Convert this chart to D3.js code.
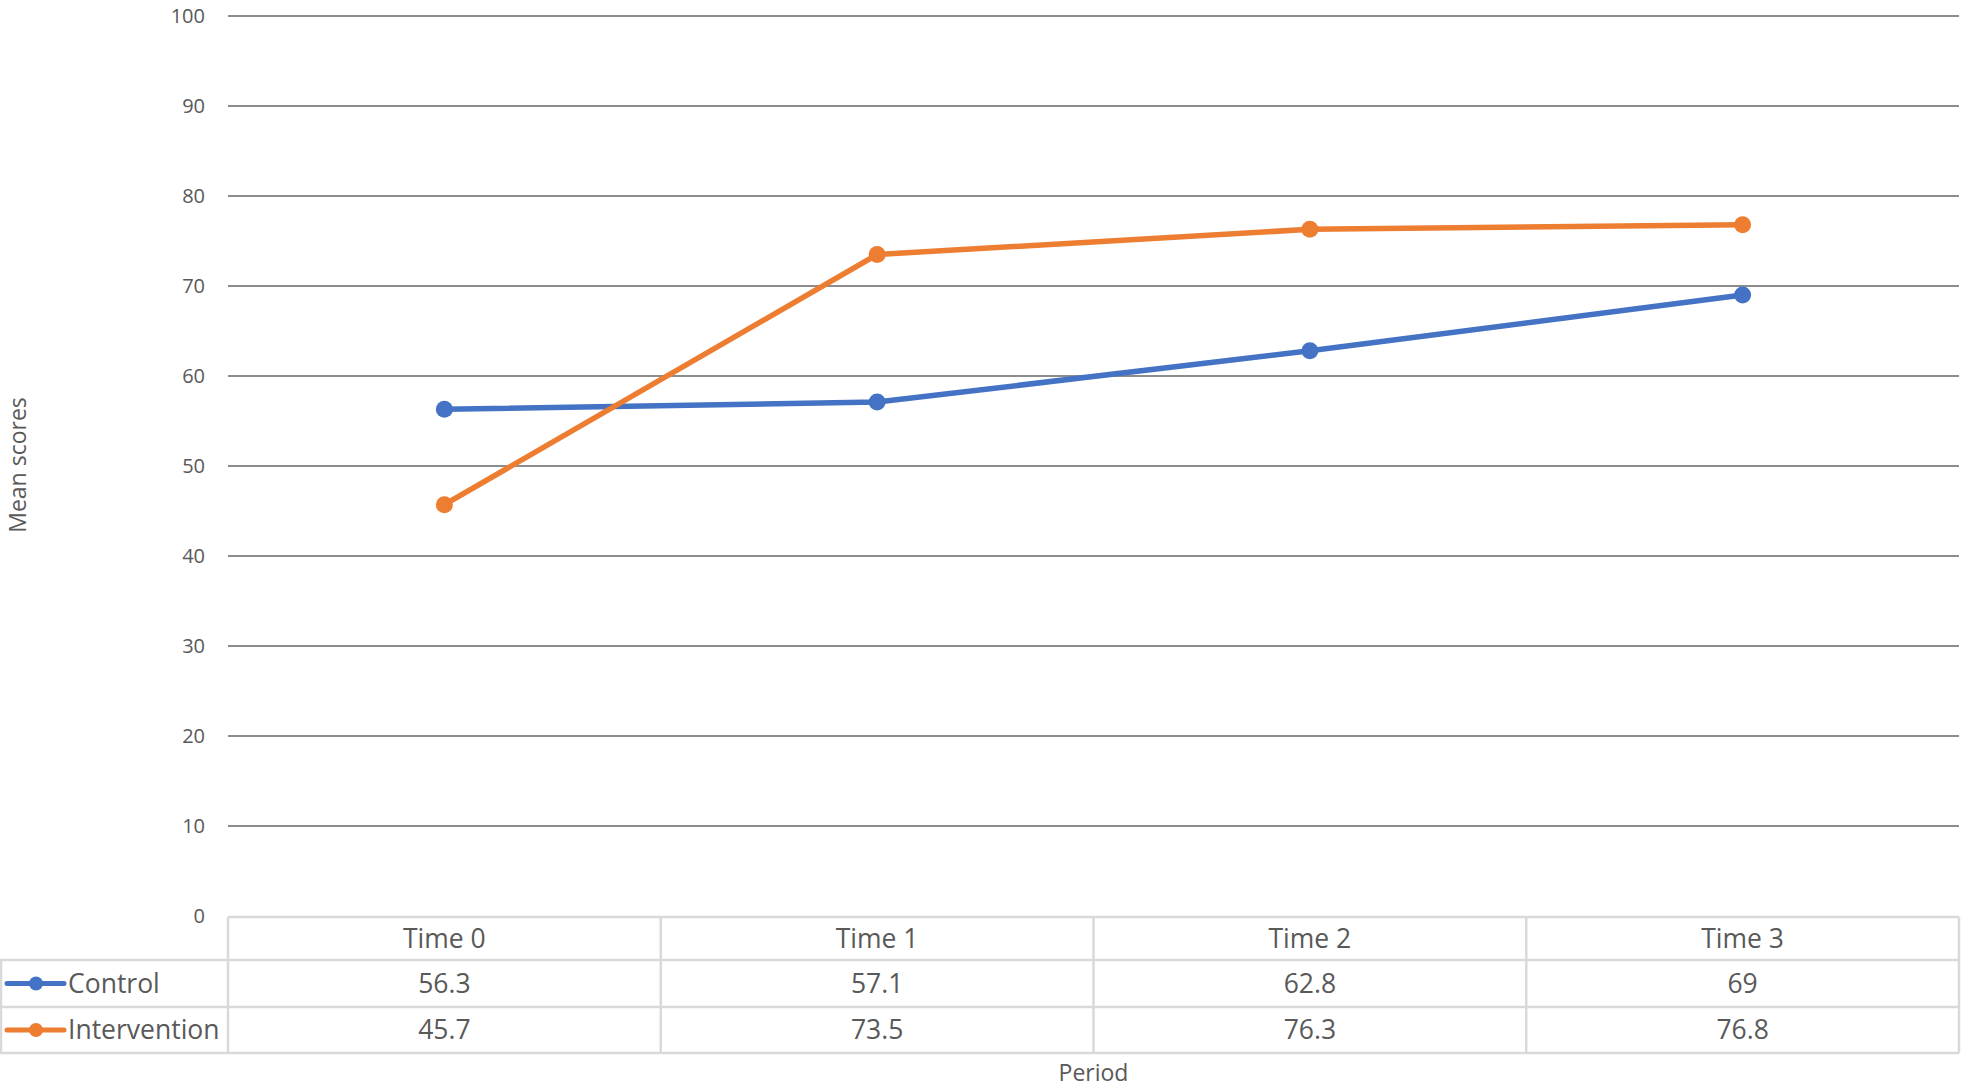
<!DOCTYPE html>
<html><head><meta charset="utf-8">
<script src="https://cdn.jsdelivr.net/npm/d3@7"></script>
<style>body{margin:0;background:#fff}svg{display:block}text{font-family:"Open Sans",Lato,sans-serif;fill:#595959}</style>
</head><body>
<script>
const categories = ["Time 0","Time 1","Time 2","Time 3"];
const control = [56.3,57.1,62.8,69];
const intervention = [45.7,73.5,76.3,76.8];
const controlLabels = ["56.3","57.1","62.8","69"];
const interventionLabels = ["45.7","73.5","76.3","76.8"];
const yTicks = [0,10,20,30,40,50,60,70,80,90,100];
const series = [
  {name:"Control", values:control, labels:controlLabels, color:"#4472C4"},
  {name:"Intervention", values:intervention, labels:interventionLabels, color:"#ED7D31"}
];

const W=1968,H=1088;
const L=228,R=1959,T=16,B=916;
const svg=d3.select("body").append("svg").attr("width",W).attr("height",H);
const x=d3.scaleBand().domain(categories).range([L,R]);
const y=d3.scaleLinear().domain([0,100]).range([B,T]);

// gridlines
svg.append("g").selectAll("line").data(yTicks.filter(d=>d>0)).join("line")
  .attr("x1",L).attr("x2",R).attr("y1",d=>y(d)).attr("y2",d=>y(d))
  .attr("stroke","#8c8c8c").attr("stroke-width",2);

// y tick labels
svg.append("g").selectAll("text").data(yTicks).join("text")
  .attr("x",205).attr("y",d=>y(d)).attr("dy","0.35em").attr("text-anchor","end")
  .attr("font-size",20).text(d=>d);

// table
const rowTop=[917,960,1007,1053];
const tb=svg.append("g").attr("stroke","#d9d9d9").attr("stroke-width",2.5).attr("fill","none");
tb.append("line").attr("x1",L).attr("x2",R).attr("y1",rowTop[0]).attr("y2",rowTop[0]);
[1,2,3].forEach(i=>tb.append("line").attr("x1",0).attr("x2",R).attr("y1",rowTop[i]).attr("y2",rowTop[i]));
const colEdges=categories.map(c=>x(c)).concat([R]);
colEdges.forEach(cx=>tb.append("line").attr("x1",cx).attr("x2",cx).attr("y1",rowTop[0]).attr("y2",rowTop[3]));
tb.append("line").attr("x1",1).attr("x2",1).attr("y1",rowTop[1]).attr("y2",rowTop[3]);

svg.append("g").selectAll("text").data(categories).join("text")
  .attr("x",d=>x(d)+x.bandwidth()/2).attr("y",(rowTop[0]+rowTop[1])/2).attr("dy","0.35em")
  .attr("text-anchor","middle").attr("font-size",26.5).text(d=>d);

series.forEach((s,i)=>{
  const cy=(rowTop[i+1]+rowTop[i+2])/2;
  svg.append("g").selectAll("text").data(s.labels).join("text")
    .attr("x",(d,j)=>x(categories[j])+x.bandwidth()/2).attr("y",cy).attr("dy","0.35em")
    .attr("text-anchor","middle").attr("font-size",26.5).text(d=>d);
  svg.append("line").attr("x1",7).attr("x2",64).attr("y1",cy).attr("y2",cy)
    .attr("stroke",s.color).attr("stroke-width",5).attr("stroke-linecap","round");
  svg.append("circle").attr("cx",36).attr("cy",cy).attr("r",7).attr("fill",s.color);
  svg.append("text").attr("x",68).attr("y",cy).attr("dy","0.35em").attr("font-size",26.5).text(s.name);
});

// lines
const line=d3.line().x((d,j)=>x(categories[j])+x.bandwidth()/2).y(d=>y(d));
series.forEach(s=>{
  svg.append("path").datum(s.values).attr("d",line).attr("fill","none")
    .attr("stroke",s.color).attr("stroke-width",5.5).attr("stroke-linejoin","round").attr("stroke-linecap","round");
  svg.append("g").selectAll("circle").data(s.values).join("circle")
    .attr("cx",(d,j)=>x(categories[j])+x.bandwidth()/2).attr("cy",d=>y(d)).attr("r",8.5).attr("fill",s.color);
});

// axis titles
svg.append("text").attr("transform","translate(18,465) rotate(-90)").attr("text-anchor","middle")
  .attr("dy","0.35em").attr("font-size",23).text("Mean scores");
svg.append("text").attr("x",(L+R)/2).attr("y",1081).attr("text-anchor","middle")
  .attr("font-size",23).text("Period");
</script>
</body></html>
